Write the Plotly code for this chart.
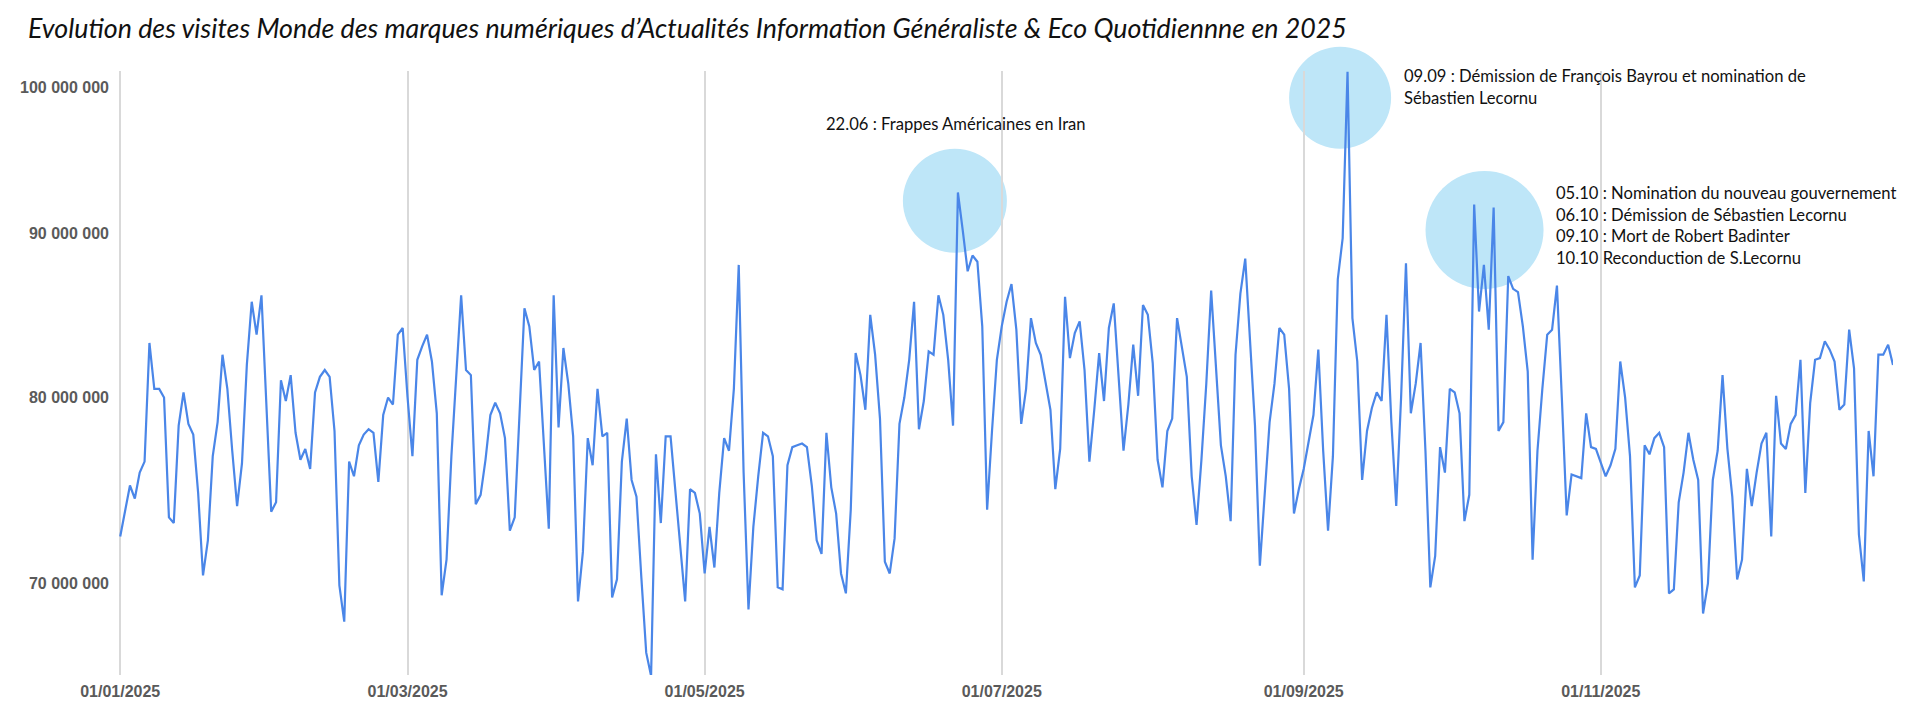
import math
import pandas as pd
import plotly.graph_objects as go

# Daily visits (millions), 01/01/2025 -> 31/12/2025
visits_millions = [
    72.4, 73.7, 75.1, 74.4, 75.8, 76.4, 83.2, 80.5, 80.5, 80.0,
    73.4, 73.1, 78.4, 80.3, 78.5, 77.9, 74.7, 70.4, 72.2, 76.7,
    78.6, 82.5, 80.5, 77.0, 74.0, 76.3, 81.9, 85.7, 83.7, 86.1,
    79.6, 73.7, 74.2, 81.0, 79.8, 81.3, 78.0, 76.5, 77.1, 76.0,
    80.3, 81.2, 81.6, 81.2, 78.1, 69.9, 68.1, 76.4, 75.6, 77.3,
    77.9, 78.2, 78.0, 75.3, 79.0, 80.0, 79.6, 83.7, 84.1, 80.0,
    76.7, 82.2, 83.0, 83.7, 82.1, 79.1, 69.4, 71.2, 76.7, 81.2,
    86.1, 81.6, 81.3, 74.1, 74.6, 76.5, 79.0, 79.7, 79.1, 77.7,
    72.7, 73.4, 78.8, 85.3, 84.2, 81.6, 82.1, 77.3, 72.8, 86.1,
    78.3, 82.9, 80.8, 77.8, 69.1, 71.6, 77.7, 76.2, 80.5, 77.8,
    78.0, 69.3, 70.2, 76.4, 78.8, 75.4, 74.5, 70.3, 66.6, 65.5,
    76.8, 73.1, 77.8, 77.8, 74.9, 71.8, 69.1, 74.9, 74.7, 73.6,
    70.5, 72.9, 70.8, 74.7, 77.7, 77.0, 80.5, 88.0, 75.8, 68.7,
    72.9, 75.6, 78.0, 77.8, 76.7, 69.8, 69.7, 76.2, 77.2, 77.3,
    77.4, 77.2, 75.1, 72.2, 71.5, 78.0, 75.0, 73.6, 70.5, 69.5,
    73.8, 82.6, 81.3, 79.3, 84.9, 82.5, 78.8, 71.1, 70.5, 72.3,
    78.5, 80.0, 82.2, 85.7, 78.2, 79.8, 82.7, 82.5, 86.1, 84.9,
    82.2, 78.4, 92.7, 90.2, 87.6, 88.6, 88.2, 84.2, 73.8, 78.1,
    82.2, 84.2, 85.7, 86.8, 84.0, 78.5, 80.5, 84.7, 83.2, 82.5,
    80.9, 79.3, 74.9, 77.1, 86.0, 82.3, 83.8, 84.5, 81.6, 76.4,
    79.3, 82.6, 79.8, 84.1, 85.6, 81.3, 77.0, 79.6, 83.1, 80.1,
    85.5, 84.9, 82.0, 76.5, 75.0, 78.1, 78.8, 84.7, 83.0, 81.2,
    75.6, 73.0, 76.5, 80.8, 86.4, 81.7, 77.3, 75.6, 73.2, 82.5,
    86.2, 88.4, 83.5, 78.4, 70.9, 74.5, 78.6, 80.8, 84.1, 83.7,
    80.5, 73.6, 74.9, 76.0, 77.5, 79.0, 82.8, 77.0, 72.7, 76.7,
    87.1, 89.7, 101.1, 84.7, 82.1, 75.4, 78.1, 79.4, 80.3, 79.8,
    84.9, 78.6, 74.0, 80.0, 88.1, 79.1, 80.8, 83.2, 77.0, 69.8,
    71.4, 77.2, 75.8, 80.5, 80.3, 79.1, 73.2, 74.6, 91.9, 85.1,
    88.0, 84.0, 91.7, 78.1, 78.6, 87.3, 86.5, 86.3, 84.2, 81.5,
    71.2, 77.0, 80.5, 83.7, 84.0, 86.7, 80.0, 73.5, 75.7, 75.6,
    75.5, 79.1, 77.2, 77.1, 76.3, 75.6, 76.2, 77.1, 82.1, 80.0,
    76.7, 69.8, 70.4, 77.3, 76.8, 77.7, 78.0, 77.2, 69.5, 69.7,
    74.2, 75.8, 78.0, 76.5, 75.4, 68.5, 70.0, 75.4, 77.0, 81.3,
    77.1, 74.5, 70.2, 71.2, 76.0, 74.0, 75.8, 77.4, 78.0, 72.4,
    80.1, 77.4, 77.1, 78.5, 79.0, 82.2, 74.7, 79.7, 82.2, 82.3,
    83.3, 82.8, 82.1, 79.3, 79.6, 84.0, 81.7, 72.5, 70.1, 78.1,
    75.6, 82.5, 82.5, 83.1, 81.9,
]
dates = pd.date_range("2025-01-01", periods=len(visits_millions), freq="D")
visits = [v * 1e6 for v in visits_millions]

x_tick_dates = ["2025-01-01", "2025-03-01", "2025-05-01", "2025-07-01", "2025-09-01", "2025-11-01"]
x_tick_labels = ["01/01/2025", "01/03/2025", "01/05/2025", "01/07/2025", "01/09/2025", "01/11/2025"]
y_tick_values = [70e6, 80e6, 90e6, 100e6]
y_tick_labels = ["70 000 000", "80 000 000", "90 000 000", "100 000 000"]

title_text = "Evolution des visites Monde des marques numériques d’Actualités Information Généraliste & Eco Quotidiennne en 2025"
event_texts = [
    "22.06 : Frappes Américaines en Iran",
    "09.09 : Démission de François Bayrou et nomination de<br>Sébastien Lecornu",
    "05.10 : Nomination du nouveau gouvernement<br>06.10 : Démission de Sébastien Lecornu<br>09.10 : Mort de Robert Badinter<br>10.10 Reconduction de S.Lecornu",
]

# the page body adds an 8px margin: size the figure so it fits the window
OFF = 8
W, H = 1930 - OFF, 720 - OFF
L, R, T, B = 114.5 - OFF, 37, 71 - OFF, 45
pw, ph = W - L - R, H - T - B

def px_x(px):
    return (px - OFF - L) / pw

def px_y(py):
    return (H - B - (py - OFF)) / ph

fig = go.Figure()
fig.add_trace(go.Scatter(
    x=dates, y=visits, mode="lines",
    line=dict(color="#4a86e8", width=2.2),
    hoverinfo="skip", showlegend=False,
))

# gridline at the first tick (plotly skips gridlines at the range edge)
fig.add_shape(
    type="line", xref="x", yref="paper",
    x0=x_tick_dates[0], x1=x_tick_dates[0], y0=0, y1=1,
    line=dict(color="#d9d9d9", width=1.5), layer="below",
)

# highlight circles (pixel-sized, centred on events)
circles = [(952.5, 200.8, 52), (1338.7, 97.7, 51), (1483.5, 230, 59)]
for cx, cy, r in circles:
    fig.add_shape(
        type="circle", xref="paper", yref="paper",
        xsizemode="pixel", ysizemode="pixel",
        xanchor=px_x(cx), yanchor=px_y(cy),
        x0=-r, x1=r, y0=-r, y1=r,
        fillcolor="#bee6f8", line=dict(width=0), layer="below",
    )

ann_pos = [(821, 124), (1401, 87.4), (1553, 225.2)]
for (ax, ay), txt in zip(ann_pos, event_texts):
    fig.add_annotation(
        x=px_x(ax), y=px_y(ay), xref="paper", yref="paper",
        xanchor="left", yanchor="middle", align="left",
        text=txt, showarrow=False,
        font=dict(family="Lato", size=16.6, color="#111111"),
    )

tick_font = dict(family="Liberation Sans, Arial", size=16, color="#5a5a5a", weight="bold")

fig.update_layout(
    width=W, height=H,
    margin=dict(l=L, r=R, t=T, b=B),
    paper_bgcolor="white", plot_bgcolor="white",
    title=dict(
        text=title_text, xref="container", yref="container",
        x=(28 - OFF) / W, xanchor="left", y=1 - (29 - OFF) / H, yanchor="middle",
        font=dict(family="Lato", size=26.8, style="italic", color="#111111"),
    ),
    xaxis=dict(
        type="date", range=["2024-12-31 18:00", "2025-12-31"],
        tickvals=x_tick_dates, ticktext=x_tick_labels,
        showgrid=True, gridcolor="#d9d9d9", gridwidth=1.5,
        zeroline=False, showline=False, ticks="",
        tickfont=tick_font,
        ticklabelstandoff=5,
    ),
    yaxis=dict(
        type="log", range=[7.8165, 8.0050],
        tickvals=y_tick_values, ticktext=y_tick_labels,
        showgrid=False, zeroline=False, showline=False, ticks="",
        tickfont=tick_font,
        ticklabelstandoff=9,
    ),
)

fig.write_html("out.html")
